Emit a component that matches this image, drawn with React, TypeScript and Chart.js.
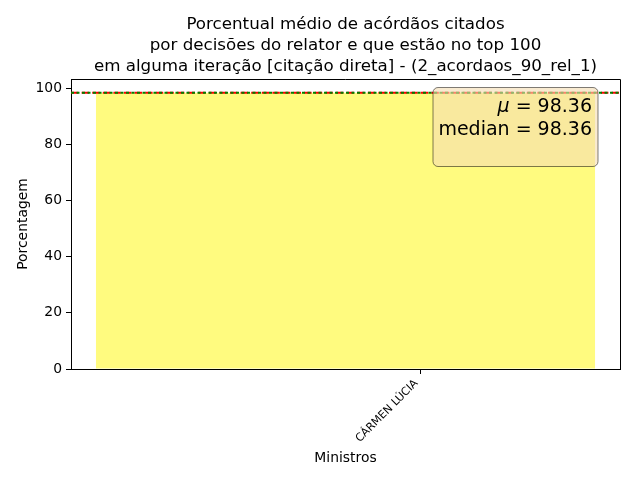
import { useEffect, useRef } from "react";
import { Chart, registerables } from "chart.js";

Chart.register(...registerables);

const titleLines = [
  "Porcentual médio de acórdãos citados",
  "por decisões do relator e que estão no top 100",
  "em alguma iteração [citação direta] - (2_acordaos_90_rel_1)",
];
const categories = ["CÁRMEN LÚCIA"];
const values = [98.36];
const meanValue = 98.36;
const medianValue = 98.36;
const yTickValues = [0, 20, 40, 60, 80, 100];
const xTickPositions = [0.12];
const yMin = 0;
const yMax = 103.28;
const xMin = -0.44;
const xMax = 0.44;
const xAxisTitle = "Ministros";
const yAxisTitle = "Porcentagem";
const statsNumbers = ["98.36", "98.36"];

const FONT = "'DejaVu Sans', sans-serif";

const decorPlugin = {
  id: "decor",
  afterDatasetsDraw(chart: any) {
    const { ctx, chartArea, scales } = chart;
    const { left, right, top, bottom } = chartArea;
    const y = scales.y;
    ctx.save();
    const ym = y.getPixelForValue(meanValue);
    ctx.lineWidth = 2;
    ctx.strokeStyle = "#ff0000";
    ctx.setLineDash([7.4, 3.2]);
    ctx.beginPath();
    ctx.moveTo(left, ym);
    ctx.lineTo(right, ym);
    ctx.stroke();
    const yd = y.getPixelForValue(medianValue);
    ctx.strokeStyle = "#008000";
    ctx.setLineDash([3, 2.5]);
    ctx.beginPath();
    ctx.moveTo(left, yd);
    ctx.lineTo(right, yd);
    ctx.stroke();
    ctx.setLineDash([]);

    const bx = 433, by = 87.5, bw = 165, bh = 79, r = 5;
    ctx.beginPath();
    ctx.moveTo(bx + r, by);
    ctx.lineTo(bx + bw - r, by);
    ctx.arcTo(bx + bw, by, bx + bw, by + r, r);
    ctx.lineTo(bx + bw, by + bh - r);
    ctx.arcTo(bx + bw, by + bh, bx + bw - r, by + bh, r);
    ctx.lineTo(bx + r, by + bh);
    ctx.arcTo(bx, by + bh, bx, by + bh - r, r);
    ctx.lineTo(bx, by + r);
    ctx.arcTo(bx, by, bx + r, by, r);
    ctx.closePath();
    ctx.fillStyle = "rgba(245,222,179,0.6)";
    ctx.fill();
    ctx.strokeStyle = "rgba(0,0,0,0.5)";
    ctx.lineWidth = 1;
    ctx.stroke();

    const tx = 592;
    ctx.fillStyle = "#000";
    ctx.textBaseline = "alphabetic";
    ctx.textAlign = "left";
    ctx.font = `19px ${FONT}`;
    const rest1 = " = " + statsNumbers[0];
    const w1 = ctx.measureText(rest1).width;
    ctx.font = `italic 19px ${FONT}`;
    const wmu = ctx.measureText("μ").width;
    ctx.fillText("μ", tx - w1 - wmu, 112);
    ctx.font = `19px ${FONT}`;
    ctx.fillText(rest1, tx - w1, 112);
    ctx.textAlign = "right";
    ctx.fillText("median = " + statsNumbers[1], tx, 135);

    ctx.strokeStyle = "#000";
    ctx.lineWidth = 1;
    ctx.beginPath();
    ctx.moveTo(left, top + 0.5);
    ctx.lineTo(right + 0.5, top + 0.5);
    ctx.lineTo(right + 0.5, bottom);
    ctx.stroke();
    ctx.restore();
  },
  afterDraw(chart: any) {
    const { ctx, chartArea } = chart;
    const cx = (chartArea.left + chartArea.right) / 2;
    ctx.save();
    ctx.fillStyle = "#000";
    ctx.textAlign = "center";
    ctx.textBaseline = "alphabetic";
    ctx.font = `16.7px ${FONT}`;
    titleLines.forEach((t, i) => ctx.fillText(t, cx, 29 + i * 21));
    ctx.font = `13.9px ${FONT}`;
    ctx.fillText(xAxisTitle, cx, 462);
    ctx.translate(27, (chartArea.top + chartArea.bottom) / 2);
    ctx.rotate(-Math.PI / 2);
    ctx.fillText(yAxisTitle, 0, 0);
    ctx.restore();
  },
};

export default function App() {
  const ref = useRef<HTMLCanvasElement>(null);
  useEffect(() => {
    if (!ref.current) return;
    const chart = new Chart(ref.current, {
      type: "bar",
      data: {
        labels: categories,
        datasets: [
          {
            data: values,
            xAxisID: "x",
            backgroundColor: "rgba(255,247,0,0.5)",
            borderWidth: 0,
            barPercentage: 0.909,
            categoryPercentage: 1,
          },
        ],
      },
      options: {
        responsive: false,
        animation: false,
        devicePixelRatio: 1,
        layout: { padding: { top: 79, right: 20, left: 0, bottom: 0 } },
        plugins: {
          legend: { display: false },
          title: { display: false },
          tooltip: { enabled: false },
        },
        scales: {
          x: {
            type: "category",
            offset: true,
            display: false,
          },
          x2: {
            type: "linear",
            position: "bottom",
            min: xMin,
            max: xMax,
            offset: false,
            afterBuildTicks: (s: any) => {
              s.ticks = xTickPositions.map((v) => ({ value: v }));
            },
            grid: {
              offset: false,
              drawOnChartArea: false,
              drawTicks: true,
              tickLength: 5,
              color: "#000",
            },
            border: { display: true, color: "#000", width: 1 },
            ticks: {
              color: "#000",
              font: { family: FONT, size: 11 },
              minRotation: 45,
              maxRotation: 45,
              padding: 3,
              labelOffset: -4,
              autoSkip: false,
              callback: (_v: any, i: number) => categories[i],
            },
            afterFit: (s: any) => {
              s.height = 111;
            },
          },
          y: {
            min: yMin,
            max: yMax,
            afterBuildTicks: (s: any) => {
              s.ticks = yTickValues.map((v) => ({ value: v }));
            },
            grid: {
              drawOnChartArea: false,
              drawTicks: true,
              tickLength: 5,
              color: "#000",
            },
            border: { display: true, color: "#000", width: 1 },
            ticks: {
              color: "#000",
              font: { family: FONT, size: 13.9 },
              padding: 4,
            },
            afterFit: (s: any) => {
              s.width = 71;
            },
          },
        },
      },
      plugins: [decorPlugin],
    });
    return () => chart.destroy();
  }, []);
  return (
    <div style={{ position: "fixed", left: 0, top: 0, width: 640, height: 480, background: "#fff" }}>
      <canvas ref={ref} width={640} height={480} style={{ width: 640, height: 480 }} />
    </div>
  );
}
